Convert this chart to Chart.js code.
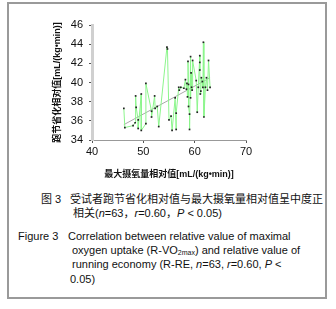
<!DOCTYPE html>
<html>
<head>
<meta charset="utf-8">
<script src="https://cdn.jsdelivr.net/npm/chart.js@4"></script>
<style>
  body { margin: 0; background: #fff; font-family: "Liberation Sans", "Noto Sans CJK SC", sans-serif; color: #111; }
  #wrap { position: relative; width: 336px; height: 309px; }
  #frame { position: absolute; left: 7px; top: 2px; width: 316px; height: 293px; border: 2px solid #9a9a9a; }
  #grafico { position: absolute; left: 0; top: 0; }
  .cap { position: absolute; font-size: 11px; line-height: 14px; white-space: nowrap; }
  sub { font-size: 7px; vertical-align: -1px; }
</style>
</head>
<body>
<div id="wrap">
  <div id="frame"></div>
  <canvas id="grafico" width="336" height="185"></canvas>
  <div class="cap" style="left:41px; top:192px;">图 3</div>
  <div class="cap" style="left:70px; top:192px;">受试者跑节省化相对值与最大摄氧量相对值呈中度正</div>
  <div class="cap" style="left:73px; top:206px;">相关(<i>n</i>=63，<i>r</i>=0.60，<i>P</i> &lt; 0.05)</div>
  <div class="cap" style="left:18px; top:229px;">Figure 3</div>
  <div class="cap" style="left:68px; top:229px;">Correlation between relative value of maximal</div>
  <div class="cap" style="left:72px; top:243px;">oxygen uptake (R-VO<sub>2max</sub>) and relative value of</div>
  <div class="cap" style="left:72px; top:257px;">running economy (R-RE, <i>n</i>=63, <i>r</i>=0.60, <i>P</i> &lt;</div>
  <div class="cap" style="left:70px; top:272px;">0.05)</div>
</div>
<script>
// valores, na ordem em que a linha verde os liga
const vo2Rel = [46.2, 46.4, 48.0, 48.4, 48.5, 48.6, 49.0, 49.0, 49.6, 49.6, 50.5, 50.5,
  51.6, 51.6, 52.2, 52.3, 52.7, 53.0, 54.6, 54.7, 55.0, 55.4, 55.6, 56.2, 56.4, 56.4,
  56.9, 57.0, 57.3, 57.9, 58.2, 58.4, 58.5, 58.6, 58.7, 58.8, 58.8, 59.0, 59.0, 59.2,
  59.2, 59.3, 59.4, 59.5, 59.6, 60.3, 60.5, 60.7, 61.0, 61.0, 61.0, 61.1, 61.2, 61.3,
  61.5, 61.6, 61.7, 61.8, 62.1, 62.3, 62.5, 62.7, 63.0];
const reRel = [37.3, 35.3, 35.5, 35.8, 38.6, 37.4, 36.1, 35.2, 38.8, 35.0, 35.7, 39.9,
  37.0, 36.4, 38.6, 37.3, 37.5, 35.4, 43.7, 43.5, 36.1, 36.5, 35.0, 38.4, 35.1, 36.8,
  39.5, 39.2, 39.5, 39.4, 40.3, 39.3, 39.9, 38.5, 42.2, 39.8, 37.5, 36.7, 35.1, 42.7,
  38.4, 41.0, 39.5, 39.2, 42.3, 40.2, 36.9, 39.5, 42.8, 42.1, 41.3, 38.8, 39.1, 40.5,
  40.1, 39.5, 44.2, 36.4, 39.5, 40.5, 39.2, 42.3, 39.5];
const ajusteX = [46.2, 63.0];
const ajusteY = [35.6, 40.5];

const pontos = vo2Rel.map((x, i) => ({ x: x, y: reRel[i] }));
const reta = ajusteX.map((x, i) => ({ x: x, y: ajusteY[i] }));

const fonteEixo = { family: "Liberation Sans, Noto Sans CJK SC, sans-serif", size: 11 };
const fonteTitulo = { family: "Liberation Sans, Noto Sans CJK SC, sans-serif", size: 9, weight: "bold" };

new Chart(document.getElementById("grafico"), {
  type: "scatter",
  data: {
    datasets: [
      {
        label: "RE",
        data: pontos,
        showLine: true,
        borderColor: "#8cf58c",
        borderWidth: 1,
        backgroundColor: "#222",
        pointBackgroundColor: "#222",
        pointBorderWidth: 0,
        pointStyle: "rect",
        pointRadius: 1.2
      },
      {
        label: "ajuste",
        data: reta,
        showLine: true,
        borderColor: "#a8a8a8",
        borderWidth: 1,
        pointRadius: 0
      }
    ]
  },
  options: {
    responsive: false,
    animation: false,
    layout: { padding: { left: 52, right: 90, top: 25, bottom: 5 } },
    plugins: { legend: { display: false }, tooltip: { enabled: false } },
    scales: {
      x: {
        min: 40, max: 70,
        afterFit: (s) => { s.height = 40; },
        ticks: { stepSize: 10, color: "#111", font: fonteEixo, padding: 2, maxRotation: 0 },
        grid: { drawOnChartArea: false, tickLength: 3, color: "#555" },
        border: { color: "#999", width: 1 },
        title: { display: true, text: "最大摄氧量相对值[mL/(kg•min)]", color: "#111", font: fonteTitulo, padding: { top: 0, bottom: 0 } }
      },
      y: {
        min: 34, max: 46,
        afterFit: (s) => { s.width = 40; },
        ticks: { stepSize: 2, color: "#111", font: fonteEixo, padding: 6 },
        grid: { drawOnChartArea: false, tickLength: 3, color: "#555" },
        border: { color: "#d0d0d0", width: 3 },
        title: { display: true, text: "跑节省化相对值[mL/(kg•min)]", color: "#111", font: fonteTitulo, padding: { top: 0, bottom: 0 } }
      }
    }
  }
});
</script>
</body>
</html>
